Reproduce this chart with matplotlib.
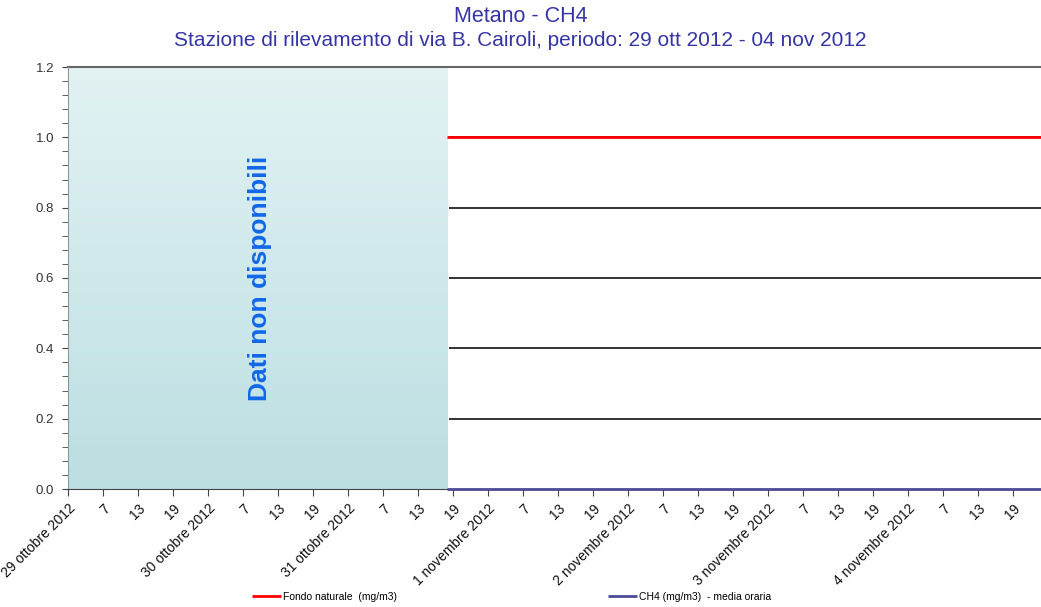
import matplotlib
matplotlib.use("Agg")
import matplotlib.pyplot as plt
import numpy as np
from matplotlib.colors import LinearSegmentedColormap

# hours since 29 ott 2012 00:00
days = ["29 ottobre 2012", "30 ottobre 2012", "31 ottobre 2012", "1 novembre 2012",
        "2 novembre 2012", "3 novembre 2012", "4 novembre 2012"]
hour_labels = ["7", "13", "19"]
missing_until = 65          # no data before this hour
x_end = 166.8
fondo_hours = [65, 168]
fondo_values = [1.0, 1.0]
ch4_hours = list(range(65, 168))
ch4_values = [0.0] * len(ch4_hours)

plt.rcParams['font.family'] = ['Liberation Sans', 'DejaVu Sans']
fig = plt.figure(figsize=(10.41, 6.07), dpi=100)
W, H = 1041, 607
ax = fig.add_axes([68 / W, (H - 489) / H, (W - 68) / W, (489 - 67) / H])

# gradient "no data" block
cmap = LinearSegmentedColormap.from_list("nd", ["#bcdfe2", "#e3f2f3"])
grad = np.linspace(0, 1, 256).reshape(-1, 1)
ax.imshow(grad, cmap=cmap, origin="lower", aspect="auto",
          extent=[0, missing_until, 0, 1.2], zorder=0)
ax.text(32.9, 0.6, "Dati non disponibili", rotation=90,
        ha="center", va="center", color="#1167e8", fontsize=19,
        fontweight="bold")

# grid only over the data part
for yv in [0.2, 0.4, 0.6, 0.8, 1.0]:
    ax.plot([missing_until + 0.3, x_end], [yv, yv], color="#111111", lw=1.2,
            zorder=1, solid_capstyle="butt")
ax.plot([0, x_end], [1.2, 1.2], color="#666666", lw=1.5, zorder=2, clip_on=False)

ax.plot(fondo_hours, fondo_values, color="#ff0000", lw=2, zorder=3,
        label="Fondo naturale  (mg/m3)", solid_capstyle="butt")
ax.plot(ch4_hours, ch4_values, color="#4b4b96", lw=2, zorder=3,
        label="CH4 (mg/m3)  - media oraria", clip_on=False, solid_capstyle="butt")

ax.set_xlim(0, x_end)
ax.set_ylim(0, 1.2)
for s in ["top", "right"]:
    ax.spines[s].set_visible(False)
ax.spines["left"].set_color("#8a9a9c")
ax.spines["bottom"].set_color("#444444")

ticks = np.arange(0, 168, 6)
labels = []
for d in days:
    labels += [d] + hour_labels
ax.set_xticks(ticks)
ax.set_xticklabels(labels, rotation=45, ha="right", rotation_mode="anchor",
                   fontsize=10, color="#111111")
ax.tick_params(axis="x", length=5, color="#444444", pad=4)

yt = [0, 0.2, 0.4, 0.6, 0.8, 1.0, 1.2]
ax.set_yticks(yt)
ax.set_yticklabels(["%.1f" % v for v in yt], fontsize=9.5, color="#333333")
ax.set_yticks(np.arange(0, 1.21, 0.04), minor=True)
ax.tick_params(axis="y", which="both", length=4, color="#444444", pad=6)

fig.text(0.5, 1 - 17 / H, "Metano - CH4", ha="center", va="center",
         color="#3535a5", fontsize=15.5)
fig.text(0.5, 1 - 41 / H, "Stazione di rilevamento di via B. Cairoli, periodo: 29 ott 2012 - 04 nov 2012",
         ha="center", va="center", color="#3535a5", fontsize=15)

fig.legend(loc="center", bbox_to_anchor=(0.4915, 1 - 597 / H), ncol=2, frameon=False,
           fontsize=7.5, handlelength=2.8, handletextpad=0.2, columnspacing=20.2)

fig.savefig("out.png", dpi=100)
